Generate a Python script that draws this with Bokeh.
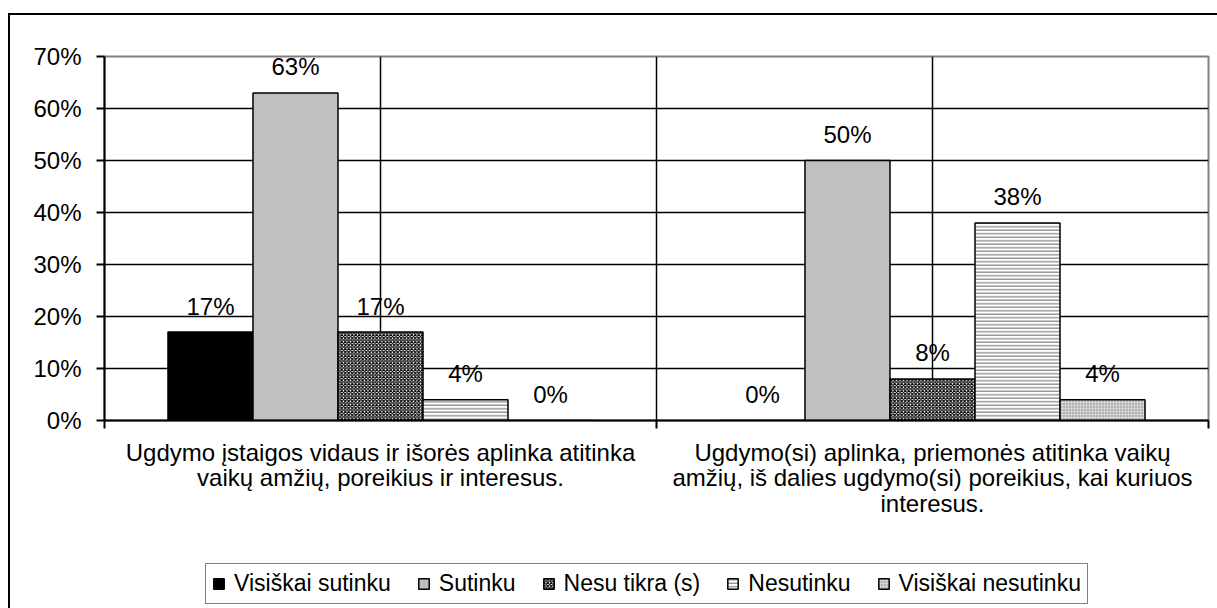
from bokeh.plotting import figure
from bokeh.layouts import column
from bokeh.models import (ColumnDataSource, FixedTicker, Legend, LegendItem,
                          NumeralTickFormatter, Range1d, InlineStyleSheet)
from bokeh.core.properties import value
from bokeh.embed import file_html
from bokeh.resources import INLINE

# ---------------- data ----------------
categories = [
    "Ugdymo įstaigos vidaus ir išorės aplinka atitinka\nvaikų amžių, poreikius ir interesus.",
    "Ugdymo(si) aplinka, priemonės atitinka vaikų\namžių, iš dalies ugdymo(si) poreikius, kai kuriuos\ninteresus.",
]
series_names = ["Visiškai sutinku", "Sutinku", "Nesu tikra (s)", "Nesutinku", "Visiškai nesutinku"]
visiskai_sutinku = [0.17, 0.00]
sutinku = [0.63, 0.50]
nesu_tikra = [0.17, 0.08]
nesutinku = [0.04, 0.38]
visiskai_nesutinku = [0.00, 0.04]
y_ticks = [0.0, 0.1, 0.2, 0.3, 0.4, 0.5, 0.6, 0.7]

series_values = [visiskai_sutinku, sutinku, nesu_tikra, nesutinku, visiskai_nesutinku]

# ---------------- styles ----------------
FONT = "Liberation Sans"
FS = "24px"
styles = [
    dict(fill_color="black"),
    dict(fill_color="#c0c0c0"),
    dict(fill_color="white", hatch_pattern="diagonal_cross", hatch_color="black",
         hatch_scale=3.5, hatch_weight=1.2),
    dict(fill_color="white", hatch_pattern="horizontal_line", hatch_color="#808080",
         hatch_scale=3.5, hatch_weight=1.2),
    dict(fill_color="#d4d4d4", hatch_pattern="dot", hatch_color="#808080",
         hatch_scale=3, hatch_weight=1),
]

p = figure(width=1217, height=560, output_backend="svg", toolbar_location=None,
           x_range=Range1d(-0.5, 1.5), y_range=Range1d(0, 0.7),
           min_border_left=104, min_border_right=9, min_border_top=56, min_border_bottom=140)
p.background_fill_color = "white"
p.border_fill_color = "white"
p.outline_line_color = "#808080"
p.outline_line_width = 2

# grid
p.ygrid.ticker = FixedTicker(ticks=y_ticks)
p.ygrid.grid_line_color = "black"
p.ygrid.grid_line_width = 1.5
p.xgrid.ticker = FixedTicker(ticks=[0, 0.5, 1])
p.xgrid.grid_line_color = "black"
p.xgrid.grid_line_width = 1.5

# y axis
p.yaxis.ticker = FixedTicker(ticks=y_ticks)
p.yaxis.formatter = NumeralTickFormatter(format="0%")
p.yaxis.axis_line_color = "black"
p.yaxis.axis_line_width = 2
p.yaxis.major_tick_line_color = "black"
p.yaxis.major_tick_line_width = 2
p.yaxis.major_tick_out = 8
p.yaxis.major_tick_in = 0
p.yaxis.minor_tick_line_color = None
p.yaxis.major_label_standoff = 15
p.yaxis.major_label_text_font = FONT
p.yaxis.major_label_text_font_size = FS
p.yaxis.major_label_text_color = "black"

# x axis
p.xaxis.ticker = FixedTicker(ticks=[0, 1], minor_ticks=[-0.5, 0.5, 1.5])
p.xaxis.major_label_overrides = {0: categories[0], 1: categories[1]}
p.xaxis.axis_line_color = "black"
p.xaxis.axis_line_width = 2
p.xaxis.major_tick_out = 0
p.xaxis.major_tick_in = 0
p.xaxis.major_tick_line_color = None
p.xaxis.minor_tick_line_color = "black"
p.xaxis.minor_tick_line_width = 2
p.xaxis.minor_tick_out = 8
p.xaxis.minor_tick_in = 0
p.xaxis.major_label_standoff = 10
p.xaxis.major_label_text_font = FONT
p.xaxis.major_label_text_font_size = FS
p.xaxis.major_label_text_line_height = 0.95
p.xaxis.major_label_text_color = "black"

# bars
n = len(series_names)
bar_w = 0.154
sources = []
for i, (name, vals, st) in enumerate(zip(series_names, series_values, styles)):
    xs = [c + (i - (n - 1) / 2) * bar_w for c in range(len(categories))]
    src = ColumnDataSource(dict(x=xs, top=vals, lbl=[f"{round(v * 100):d}%" for v in vals]))
    sources.append(src)
    p.vbar(x="x", top="top", width=bar_w, bottom=0, source=src,
           line_color="black", line_width=1.5, **st)
    p.text(x="x", y="top", text="lbl", source=src, text_align="center",
           text_baseline="alphabetic", y_offset=-26, text_font=value(FONT),
           text_font_size=FS, text_color="black")

# ---------------- legend strip ----------------
# hidden copies of the bars only provide the legend swatches
lp = figure(width=1217, height=48, output_backend="svg", toolbar_location=None,
            x_range=Range1d(-0.5, 1.5), y_range=Range1d(0, 0.7),
            x_axis_type=None, y_axis_type=None, min_border=0)
lp.outline_line_color = None
lp.background_fill_color = "white"
lp.border_fill_color = "white"
items = []
for name, src, st in zip(series_names, sources, styles):
    r = lp.vbar(x="x", top="top", width=bar_w, bottom=0, source=src,
                line_color="black", line_width=1.5, visible=False, **st)
    items.append(LegendItem(label=name, renderers=[r]))
legend = Legend(items=items, orientation="horizontal", location=(101, 4),
                label_text_font=FONT, label_text_font_size="23px",
                label_text_color="black", glyph_width=13, glyph_height=13,
                label_standoff=9, spacing=26, padding=6, margin=0,
                border_line_color="black", border_line_width=1.5,
                background_fill_color="white", background_fill_alpha=1,
                inactive_fill_alpha=0)
lp.add_layout(legend, "center")

# outer chart-area border (left and top edges; right/bottom lie outside the window)
css_top = """
:host::after {
  content: ""; position: absolute;
  left: 8px; top: 13px; right: 0px; bottom: 0px;
  border-left: 2.5px solid black; border-top: 2.5px solid black;
  pointer-events: none;
}
"""
css_bottom = """
:host::after {
  content: ""; position: absolute;
  left: 8px; top: 0px; right: 0px; bottom: 0px;
  border-left: 2.5px solid black;
  pointer-events: none;
}
"""
p.stylesheets = [InlineStyleSheet(css=css_top)]
lp.stylesheets = [InlineStyleSheet(css=css_bottom)]

layout = column(p, lp, spacing=0)
open("out.html", "w").write(file_html(layout, INLINE))
